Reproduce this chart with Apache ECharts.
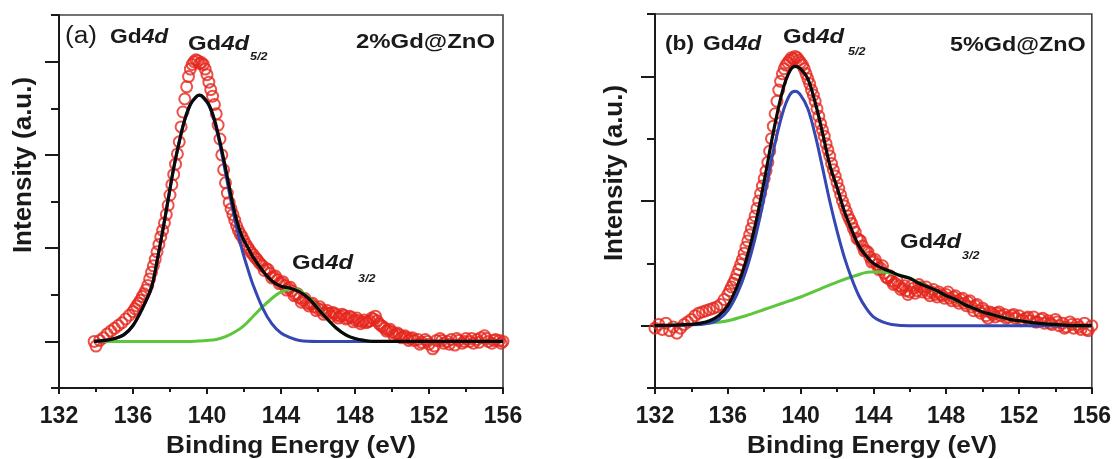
<!DOCTYPE html>
<html>
<head>
<meta charset="utf-8">
<script src="https://cdn.jsdelivr.net/npm/echarts@6/dist/echarts.min.js"></script>
<style>
  html, body { margin: 0; padding: 0; background: #fff; }
  #chart { width: 1114px; height: 459px; }
</style>
</head>
<body>
<div id="chart"></div>
<script>
// Gd 4d XPS spectra of Gd-doped ZnO: measured points and peak fits.
// Intensities are in arbitrary units, 0 = fitted background.

const energyTicks = [132, 136, 140, 144, 148, 152, 156];

// ---- (a) 2%Gd@ZnO ----
const measured2 = [
  [133.9,0.00],[134.0,-0.05],[134.2,0.01],[134.4,0.04],[134.6,0.08],[134.8,0.11],[135.0,0.14],[135.2,0.17],[135.4,0.20],[135.6,0.24],[135.8,0.28],[136.0,0.32],
  [136.1,0.35],[136.2,0.38],[136.3,0.41],[136.4,0.44],[136.5,0.48],[136.6,0.51],[136.7,0.55],[136.8,0.60],[136.9,0.67],[137.0,0.74],
  [137.1,0.81],[137.2,0.88],[137.3,0.96],[137.4,1.04],[137.5,1.12],[137.6,1.19],[137.7,1.27],[137.8,1.36],[137.9,1.46],[138.0,1.57],
  [138.1,1.68],[138.2,1.79],[138.3,1.90],[138.4,2.01],[138.5,2.14],[138.6,2.30],[138.7,2.46],[138.8,2.60],[138.9,2.73],[139.0,2.84],
  [139.1,2.92],[139.2,2.97],[139.3,3.00],[139.4,3.02],[139.5,3.01],[139.6,2.98],[139.7,2.99],[139.8,2.97],[139.9,2.92],[140.0,2.86],
  [140.1,2.78],[140.2,2.70],[140.3,2.63],[140.4,2.54],[140.5,2.44],[140.6,2.32],[140.7,2.17],[140.8,2.00],[140.9,1.84],[141.0,1.70],
  [141.1,1.59],[141.2,1.49],[141.3,1.42],[141.4,1.36],[141.5,1.30],[141.6,1.24],[141.7,1.19],[141.8,1.15],[141.9,1.12],[142.0,1.08],
  [142.1,1.04],[142.2,1.01],[142.3,0.98],[142.4,0.95],[142.5,0.93],[142.6,0.90],[142.7,0.88],[142.8,0.85],[142.9,0.83],[143.0,0.81],
  [143.2,0.78],[143.4,0.73],[143.6,0.69],[143.8,0.66],[144.0,0.63],[144.2,0.60],[144.4,0.57],[144.6,0.54],[144.8,0.50],[145.0,0.47],
  [145.2,0.44],[145.4,0.41],[145.6,0.40],[145.8,0.37],[146.0,0.35],[146.2,0.34],[146.4,0.31],[146.6,0.30],[146.8,0.31],[147.0,0.28],
  [147.2,0.27],[147.4,0.28],[147.6,0.25],[147.8,0.26],[148.0,0.23],[148.2,0.22],[148.4,0.21],[148.6,0.20],[148.8,0.22],[149.0,0.24],
  [149.2,0.22],[149.4,0.17],[149.6,0.14],[149.8,0.12],[150.0,0.10],[150.2,0.08],[150.4,0.07],[150.6,0.05],[150.8,0.04],[151.0,0.03],
  [151.2,0.01],[151.4,0.02],[151.6,-0.01],[151.8,0.02],[152.0,-0.03],[152.2,-0.08],[152.4,0.01],[152.6,0.03],[152.8,-0.02],[153.0,0.00],
  [153.2,0.02],[153.4,-0.04],[153.6,0.01],[153.8,-0.02],[154.0,0.03],[154.2,0.00],[154.4,-0.02],[154.6,0.02],[154.8,0.04],[155.0,0.06],
  [155.2,0.00],[155.4,-0.02],[155.6,0.02],[155.8,0.01],[156.0,0.00]
];
// scattered readings in the high-energy tail
const measured2Tail = [
  [143.1,0.76],[143.3,0.77],[143.5,0.68],[143.7,0.70],[143.9,0.62],[144.1,0.64],[144.3,0.55],[144.5,0.58],[144.7,0.49],[144.9,0.51],
  [145.1,0.42],[145.3,0.46],[145.5,0.38],[145.7,0.41],[145.9,0.33],[146.1,0.37],[146.3,0.29],[146.5,0.33],[146.7,0.27],[146.9,0.30],
  [147.1,0.25],[147.3,0.29],[147.5,0.24],[147.7,0.27],[147.9,0.21],[148.1,0.25],[148.3,0.19],[148.5,0.23],[148.7,0.21],[148.9,0.25],
  [149.1,0.27],[149.3,0.19],[149.5,0.16],[149.7,0.11],[149.9,0.13],[150.1,0.06],[150.3,0.09],[150.5,0.04],[150.7,0.06],[150.9,0.01],
  [151.1,0.04],[151.5,-0.03],[151.9,0.00],[152.3,-0.05],[152.7,0.01],[153.1,-0.03],[153.5,0.03],[153.9,0.00],[154.3,0.03],[154.7,-0.01],
  [155.1,0.03],[155.5,0.01],[155.9,-0.02]
];
const envelope2 = [
  [133.9,0.00],[134.5,0.01],[135.0,0.03],[135.5,0.07],[136.0,0.17],[136.5,0.35],[137.0,0.58],[137.3,0.86],[137.6,1.18],[137.9,1.52],
  [138.2,1.86],[138.5,2.14],[138.8,2.38],[139.1,2.54],[139.4,2.62],[139.6,2.64],[139.8,2.62],[140.1,2.54],[140.4,2.38],[140.7,2.14],
  [141.0,1.86],[141.3,1.56],[141.6,1.30],[141.9,1.12],[142.2,1.01],[142.5,0.90],[143.0,0.76],[143.5,0.65],[144.0,0.59],[144.5,0.57],
  [145.0,0.53],[145.5,0.46],[146.0,0.35],[146.5,0.24],[147.0,0.14],[147.5,0.07],[148.0,0.03],[148.5,0.01],[149.0,0.00],[156.0,0.00]
];
const peak52_2 = [
  [133.9,0.00],[134.5,0.01],[135.0,0.03],[135.5,0.07],[136.0,0.17],[136.5,0.35],[137.0,0.58],[137.3,0.86],[137.6,1.18],[137.9,1.52],
  [138.2,1.86],[138.5,2.14],[138.8,2.38],[139.1,2.54],[139.4,2.62],[139.6,2.64],[139.8,2.61],[140.1,2.53],[140.4,2.36],[140.7,2.11],
  [141.0,1.81],[141.3,1.50],[141.6,1.22],[141.9,0.98],[142.2,0.78],[142.5,0.60],[143.0,0.36],[143.5,0.19],[144.0,0.09],[144.5,0.04],
  [145.0,0.01],[146.0,0.00],[156.0,0.00]
];
const peak32_2 = [
  [133.9,0.00],[139.0,0.00],[140.0,0.01],[140.5,0.02],[141.0,0.05],[141.5,0.10],[142.0,0.17],[142.5,0.27],[143.0,0.37],[143.5,0.46],
  [144.0,0.53],[144.5,0.56],[144.8,0.56],[145.2,0.52],[145.6,0.45],[146.0,0.36],[146.5,0.24],[147.0,0.14],[147.5,0.07],[148.0,0.03],
  [148.5,0.01],[149.0,0.00],[156.0,0.00]
];

// ---- (b) 5%Gd@ZnO ----
const measured5 = [
  [132.0,-0.02],[132.2,0.01],[132.4,-0.03],[132.6,0.02],[132.8,-0.04],[133.0,-0.01],[133.2,-0.06],[133.4,-0.02],[133.6,0.01],[133.8,0.03],
  [134.0,0.05],[134.2,0.08],[134.4,0.10],[134.6,0.11],[134.8,0.12],[135.0,0.13],[135.2,0.14],[135.4,0.15],[135.6,0.17],[135.8,0.21],
  [136.0,0.25],[136.1,0.28],[136.2,0.31],[136.3,0.34],[136.4,0.37],[136.5,0.41],[136.6,0.45],[136.7,0.49],[136.8,0.53],[136.9,0.58],
  [137.0,0.63],[137.1,0.68],[137.2,0.73],[137.3,0.78],[137.4,0.83],[137.5,0.88],[137.6,0.94],[137.7,1.00],[137.8,1.06],[137.9,1.12],
  [138.0,1.18],[138.1,1.24],[138.2,1.31],[138.3,1.40],[138.4,1.50],[138.5,1.60],[138.6,1.70],[138.7,1.80],[138.8,1.89],[138.9,1.96],
  [139.0,2.02],[139.1,2.06],[139.2,2.09],[139.3,2.11],[139.4,2.13],[139.5,2.15],[139.6,2.14],[139.7,2.16],[139.8,2.15],[139.9,2.13],
  [140.0,2.11],[140.1,2.09],[140.2,2.06],[140.3,2.02],[140.4,1.98],[140.5,1.94],[140.6,1.89],[140.7,1.85],[140.8,1.80],[140.9,1.74],
  [141.0,1.68],[141.1,1.62],[141.2,1.57],[141.3,1.52],[141.4,1.46],[141.5,1.41],[141.6,1.36],[141.7,1.30],[141.8,1.25],[141.9,1.20],
  [142.0,1.15],[142.1,1.10],[142.2,1.05],[142.3,1.00],[142.4,0.96],[142.5,0.92],[142.6,0.88],[142.7,0.85],[142.8,0.82],[142.9,0.78],
  [143.0,0.75],[143.2,0.69],[143.4,0.64],[143.6,0.60],[143.8,0.55],[144.0,0.52],[144.2,0.49],[144.4,0.46],[144.6,0.42],[144.8,0.38],
  [145.0,0.36],[145.2,0.34],[145.4,0.32],[145.6,0.30],[145.8,0.28],[146.0,0.27],[146.2,0.30],[146.4,0.28],[146.6,0.31],[146.8,0.29],
  [147.0,0.26],[147.2,0.27],[147.4,0.25],[147.6,0.27],[147.8,0.24],[148.0,0.25],[148.2,0.22],[148.4,0.23],[148.6,0.20],[148.8,0.21],
  [149.0,0.18],[149.2,0.19],[149.4,0.15],[149.6,0.16],[149.8,0.12],[150.0,0.14],[150.2,0.08],[150.4,0.11],[150.6,0.09],[150.8,0.10],
  [151.0,0.08],[151.2,0.09],[151.4,0.07],[151.6,0.08],[151.8,0.06],[152.0,0.08],[152.2,0.05],[152.4,0.06],[152.6,0.04],[152.8,0.07],
  [153.0,0.03],[153.2,0.05],[153.4,0.02],[153.6,0.04],[153.8,0.01],[154.0,0.05],[154.2,0.00],[154.4,0.02],[154.6,-0.01],[154.8,0.03],
  [155.0,-0.02],[155.2,0.01],[155.4,-0.03],[155.6,0.02],[155.8,-0.04],[156.0,0.00]
];
const measured5Tail = [
  [143.1,0.70],[143.3,0.68],[143.5,0.60],[143.7,0.59],[143.9,0.51],[144.1,0.53],[144.3,0.45],[144.5,0.48],[144.7,0.39],[144.9,0.40],
  [145.1,0.33],[145.3,0.36],[145.5,0.29],[145.7,0.32],[145.9,0.25],[146.1,0.32],[146.3,0.26],[146.5,0.33],[146.7,0.27],[146.9,0.31],
  [147.1,0.24],[147.3,0.29],[147.5,0.23],[147.7,0.25],[147.9,0.22],[148.1,0.27],[148.3,0.20],[148.5,0.24],[148.7,0.18],[148.9,0.22],
  [149.1,0.16],[149.3,0.20],[149.5,0.12],[149.7,0.17],[149.9,0.10],[150.1,0.12],[150.3,0.06],[150.5,0.10],[150.7,0.07],[150.9,0.11],
  [151.3,0.06],[151.7,0.09],[152.1,0.04],[152.5,0.07],[152.9,0.03],[153.3,0.06],[153.7,0.02],[154.1,0.03],[154.5,-0.02],[154.9,0.01],
  [155.3,-0.01],[155.7,-0.03]
];
const envelope5 = [
  [132.0,0.00],[134.0,0.01],[134.5,0.02],[135.0,0.04],[135.5,0.08],[136.0,0.16],[136.5,0.31],[137.0,0.52],[137.5,0.80],[138.0,1.16],
  [138.5,1.55],[139.0,1.88],[139.4,2.04],[139.7,2.08],[140.0,2.06],[140.4,1.98],[140.8,1.79],[141.2,1.55],[141.6,1.29],[142.0,1.11],
  [142.4,0.92],[142.8,0.77],[143.2,0.64],[143.6,0.56],[144.0,0.50],[144.5,0.46],[145.0,0.43],[145.5,0.40],[146.0,0.38],[146.5,0.34],
  [147.0,0.31],[147.5,0.28],[148.0,0.24],[148.5,0.21],[149.0,0.17],[149.5,0.14],[150.0,0.11],[150.5,0.09],[151.0,0.07],[151.5,0.05],
  [152.0,0.04],[153.0,0.02],[154.0,0.01],[155.0,0.00],[156.0,0.00]
];
const peak52_5 = [
  [132.0,0.00],[134.5,0.01],[135.0,0.02],[135.5,0.05],[136.0,0.12],[136.5,0.25],[137.0,0.44],[137.5,0.70],[138.0,1.03],[138.5,1.40],
  [139.0,1.70],[139.4,1.85],[139.7,1.88],[140.0,1.85],[140.4,1.74],[140.8,1.53],[141.2,1.27],[141.6,1.00],[142.0,0.76],[142.4,0.55],
  [142.8,0.38],[143.2,0.24],[143.6,0.14],[144.0,0.07],[144.5,0.03],[145.0,0.01],[146.0,0.00],[156.0,0.00]
];
const peak32_5 = [
  [132.0,0.00],[134.0,0.01],[135.0,0.02],[136.0,0.04],[137.0,0.08],[138.0,0.13],[139.0,0.18],[140.0,0.23],[141.0,0.29],[142.0,0.35],
  [143.0,0.40],[143.8,0.43],[144.4,0.43],[145.0,0.42],[146.0,0.38],[147.0,0.31],[148.0,0.24],[149.0,0.17],[150.0,0.11],[151.0,0.07],
  [152.0,0.04],[153.0,0.02],[154.0,0.01],[155.0,0.00],[156.0,0.00]
];

// Intensity axis tick positions (long / short ticks)
const majorTicks2 = [0, 1, 2, 3];
const minorTicks2 = [-0.5, 0.5, 1.5, 2.5, 3.5];
const majorTicks5 = [0, 1, 2];
const minorTicks5 = [-0.5, 0.5, 1.5, 2.5];

const FONT = '"Liberation Sans", Arial, sans-serif';
const INK = '#1a1a1a';
const RED = '#e5271d';
const BLUE = '#3447b2';
const GREEN = '#5cc63c';

function xAxisFor(grid) {
  return {
    type: 'value', gridIndex: grid, min: energyTicks[0], max: energyTicks[energyTicks.length - 1], interval: 4,
    axisLine: { show: true, onZero: false, lineStyle: { color: INK, width: 2 } },
    axisTick: { show: true, inside: false, length: 6, lineStyle: { color: INK, width: 2 } },
    minorTick: { show: true, splitNumber: 2, length: 4, lineStyle: { color: INK, width: 2 } },
    splitLine: { show: false }, minorSplitLine: { show: false },
    axisLabel: { fontFamily: FONT, fontWeight: 'bold', fontSize: 23, color: INK, margin: 17 }
  };
}
function yAxesFor(grid, max, majors, minors) {
  const base = {
    type: 'value', gridIndex: grid, min: -0.5, max: max, position: 'left',
    splitLine: { show: false }, axisLabel: { show: false }
  };
  return [
    Object.assign({}, base, {
      axisLine: { show: true, onZero: false, lineStyle: { color: INK, width: 2 } },
      axisTick: { show: true, inside: false, length: 14, customValues: majors, lineStyle: { color: INK, width: 2 } }
    }),
    Object.assign({}, base, {
      axisLine: { show: false },
      axisTick: { show: true, inside: false, length: 8, customValues: minors, lineStyle: { color: INK, width: 2 } }
    })
  ];
}
function panelSeries(x, y, pts, env, p52, p32) {
  const line = (data, color, width, z) => ({
    type: 'line', xAxisIndex: x, yAxisIndex: y, data: data, showSymbol: false, smooth: 0.35,
    lineStyle: { color: color, width: width }, z: z, silent: true
  });
  return [
    { type: 'scatter', xAxisIndex: x, yAxisIndex: y, data: pts, symbol: 'circle', symbolSize: 11,
      itemStyle: { color: 'rgba(0,0,0,0)', borderColor: RED, borderWidth: 2 }, z: 2, silent: true },
    line(p32, GREEN, 3, 3),
    line(p52, BLUE, 3, 4),
    line(env, '#0a0a0a', 3.2, 5)
  ];
}

function txt(x, y, text, size, opts) {
  opts = opts || {};
  return {
    type: 'text', x: x, y: y, scaleX: opts.scaleX || 1.14, rotation: opts.rotation || 0, z: 100,
    style: {
      text: text, fill: INK, fontFamily: FONT, fontSize: size,
      fontWeight: opts.weight || 'bold', fontStyle: opts.italic ? 'italic' : 'normal',
      align: opts.align || 'left', verticalAlign: 'middle', rich: opts.rich
    }
  };
}
function gd4d(x, y, size) {
  return txt(x, y, '{g|Gd}{d|4d}', size, {
    rich: {
      g: { fontFamily: FONT, fontSize: size, fontWeight: 'bold', fill: INK },
      d: { fontFamily: FONT, fontSize: size, fontWeight: 'bold', fontStyle: 'italic', fill: INK }
    }
  });
}

const chart = echarts.init(document.getElementById('chart'), null, { renderer: 'canvas' });
chart.setOption({
  animation: false,
  backgroundColor: '#fff',
  grid: [
    { left: 59, top: 15, width: 444, height: 373, show: true, borderColor: '#444', borderWidth: 1.6, backgroundColor: 'transparent' },
    { left: 655, top: 14, width: 438, height: 374, show: true, borderColor: '#444', borderWidth: 1.6, backgroundColor: 'transparent' }
  ],
  xAxis: [xAxisFor(0), xAxisFor(1)],
  yAxis: [].concat(yAxesFor(0, 3.5, majorTicks2, minorTicks2), yAxesFor(1, 2.5, majorTicks5, minorTicks5)),
  series: [].concat(
    panelSeries(0, 0, measured2.concat(measured2Tail), envelope2, peak52_2, peak32_2),
    panelSeries(1, 2, measured5.concat(measured5Tail), envelope5, peak52_5, peak32_5)
  ),
  graphic: [
    // panel (a)
    txt(65, 37, '(a)', 23, { weight: 'normal' }),
    gd4d(110, 37, 20),
    gd4d(188, 44, 21),
    txt(250, 57, '5/2', 11, { italic: true }),
    txt(356, 42, '2%Gd@ZnO', 21),
    gd4d(292, 263, 21),
    txt(358, 279, '3/2', 11, { italic: true }),
    txt(291, 446, 'Binding Energy (eV)', 24, { align: 'center', scaleX: 1.09 }),
    txt(24, 165, 'Intensity (a.u.)', 26, { align: 'center', rotation: Math.PI / 2, scaleX: 1 }),
    // panel (b)
    txt(665, 44, '(b)', 20),
    gd4d(703, 44, 20),
    gd4d(783, 37, 21),
    txt(848, 52, '5/2', 11, { italic: true }),
    txt(950, 45, '5%Gd@ZnO', 20.5),
    gd4d(900, 242, 21),
    txt(962, 256, '3/2', 11, { italic: true }),
    txt(872, 446, 'Binding Energy (eV)', 24, { align: 'center', scaleX: 1.09 }),
    txt(615, 173, 'Intensity (a.u.)', 26, { align: 'center', rotation: Math.PI / 2, scaleX: 1 })
  ]
});
</script>
</body>
</html>
